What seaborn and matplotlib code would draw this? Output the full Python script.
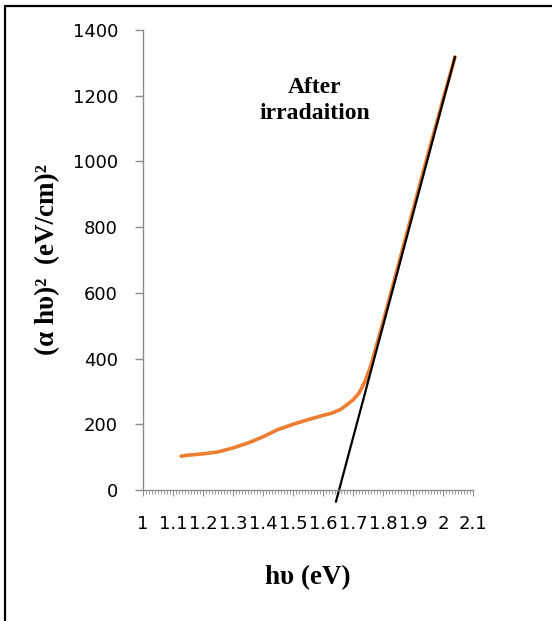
import matplotlib
matplotlib.use("Agg")
import matplotlib.pyplot as plt
import seaborn as sns
import pandas as pd
from matplotlib.ticker import MultipleLocator
from matplotlib.lines import Line2D

sns.set_theme(style="white")
plt.rcParams['font.family'] = ['DejaVu Sans']
plt.rcParams['text.color'] = 'black'
plt.rcParams['axes.labelcolor'] = 'black'

# data
energy = [1.127, 1.15, 1.2, 1.25, 1.3, 1.35, 1.4, 1.45, 1.5, 1.55, 1.6, 1.63,
          1.66, 1.7, 1.72, 1.74, 1.76, 1.78, 1.8, 1.85, 1.9, 1.95, 2.0, 2.04]
absorb = [103, 106, 110, 116, 128, 143, 162, 184, 200, 214, 227, 234,
          246, 274, 295, 330, 380, 445, 510, 680, 852, 1022, 1188, 1318]
fit_x = [1.643, 2.04]
fit_y = [-36, 1318]
xticks = [1.0, 1.1, 1.2, 1.3, 1.4, 1.5, 1.6, 1.7, 1.8, 1.9, 2.0, 2.1]
xticklabels = ["1", "1.1", "1.2", "1.3", "1.4", "1.5", "1.6", "1.7", "1.8", "1.9", "2", "2.1"]
yticks = [0, 200, 400, 600, 800, 1000, 1200, 1400]

df = pd.DataFrame({"x": energy, "y": absorb})
dfit = pd.DataFrame({"x": fit_x, "y": fit_y})

fig = plt.figure(figsize=(5.52, 6.21), dpi=100)
ax = fig.add_axes([143/552, 1 - 490/621, 330/552, 460/621])

sns.lineplot(data=df, x="x", y="y", ax=ax, color="#ED7D31", lw=2.6, sort=False)
sns.lineplot(data=dfit, x="x", y="y", ax=ax, color="black", lw=1.6, sort=False,
             clip_on=False)

ax.set_xlim(1.0, 2.1)
ax.set_ylim(0, 1400)
ax.set_xticks(xticks)
ax.set_xticklabels(xticklabels)
ax.set_yticks(yticks)
ax.xaxis.set_minor_locator(MultipleLocator(0.01))

for s in ["top", "right"]:
    ax.spines[s].set_visible(False)
for s in ["left", "bottom"]:
    ax.spines[s].set_color("#8c8c8c")
    ax.spines[s].set_linewidth(1.0)

ax.tick_params(axis="y", which="major", direction="out", length=6, width=1,
               color="#8c8c8c", left=True, labelsize=13, pad=12, labelcolor="black")
ax.tick_params(axis="x", which="major", direction="out", length=4, width=0.8,
               color="#8c8c8c", bottom=True, labelsize=13, pad=14, labelcolor="black")
ax.tick_params(axis="x", which="minor", direction="out", length=3, width=0.6,
               color="#8c8c8c", bottom=True)

serif = ["Liberation Serif", "DejaVu Serif"]
ax.set_xlabel("hυ (eV)", family=serif, fontweight="bold", fontsize=19.5, labelpad=23,
              color="black")
ax.set_ylabel("(α hυ)²  (eV/cm)²", family=serif, fontweight="bold", fontsize=19.5,
              labelpad=9, color="black")

ax.text(1.573, 1186, "After\nirradaition", family=serif, fontweight="bold",
        fontsize=17, ha="center", va="center", linespacing=1.3, color="black")

# figure border (top and left)
fig.add_artist(Line2D([5/552, 1], [1 - 6/621, 1 - 6/621], transform=fig.transFigure,
                      color="black", lw=1.6))
fig.add_artist(Line2D([5/552, 5/552], [0, 1 - 6/621], transform=fig.transFigure,
                      color="black", lw=1.6))

fig.savefig("out.png", dpi=100, facecolor="white")
